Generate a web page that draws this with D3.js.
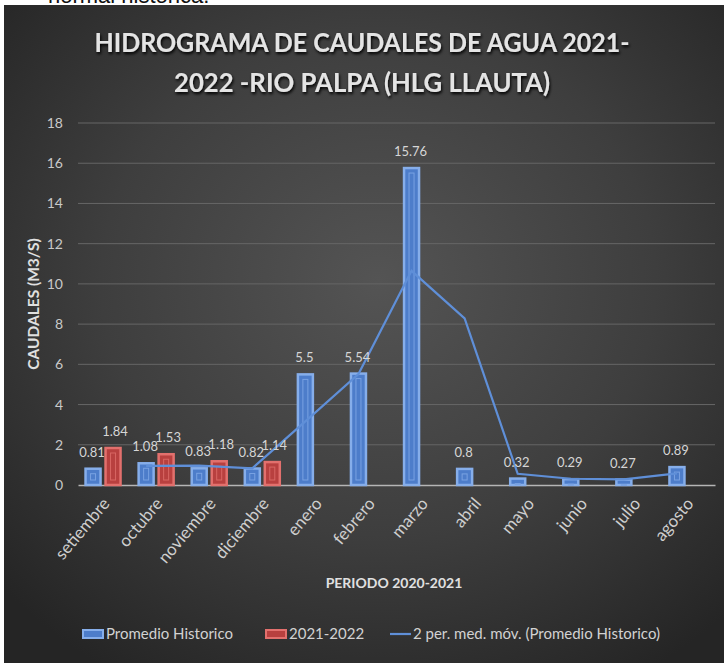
<!DOCTYPE html>
<html lang="es">
<head>
<meta charset="utf-8">
<title>Hidrograma de caudales</title>
<style>
  body { margin: 0; background: #ffffff; }
  svg text { font-family: Lato, "Liberation Sans", sans-serif; }
</style>
</head>
<body>
<div id="chart"></div>
<script src="https://d3js.org/d3.v7.min.js"></script>
<script>

// data
var meses = ["setiembre", "octubre", "noviembre", "diciembre", "enero", "febrero",
             "marzo", "abril", "mayo", "junio", "julio", "agosto"];
var promedioHistorico = [0.81, 1.08, 0.83, 0.82, 5.5, 5.54, 15.76, 0.8, 0.32, 0.29, 0.27, 0.89];
var anio2122 = [1.84, 1.53, 1.18, 1.14, null, null, null, null, null, null, null, null];
// 2 per. med. mov. (first month has no value)
var mediaMovil = [null, 0.95, 0.96, 0.83, 3.16, 5.52, 10.65, 8.28, 0.56, 0.31, 0.28, 0.58];
var yTicks = [0, 2, 4, 6, 8, 10, 12, 14, 16, 18];
var series = ["Promedio Historico", "2021-2022"];
var leyenda = ["Promedio Historico", "2021-2022", "2 per. med. móv. (Promedio Historico)"];
var titulo = ["HIDROGRAMA DE CAUDALES DE AGUA 2021-", "2022 -RIO PALPA (HLG LLAUTA)"];

var W = 724, H = 663;
var margin = {top: 123, right: 9, bottom: 178, left: 78},
    width = W - margin.left - margin.right,
    height = H - margin.top - margin.bottom;

var svg = d3.select("#chart").append("svg")
    .attr("width", W)
    .attr("height", H);

var defs = svg.append("defs");
var grad = defs.append("radialGradient")
    .attr("id", "bg")
    .attr("cx", "52%").attr("cy", "42%").attr("r", "70%");
grad.append("stop").attr("offset", "0%").attr("stop-color", "#545454");
grad.append("stop").attr("offset", "55%").attr("stop-color", "#3e3e3e");
grad.append("stop").attr("offset", "100%").attr("stop-color", "#252525");

var glow = defs.append("filter").attr("id", "glow")
    .attr("x", "-5%").attr("y", "-20%").attr("width", "110%").attr("height", "140%");
glow.append("feGaussianBlur").attr("in", "SourceAlpha").attr("stdDeviation", 1.6).attr("result", "b");
glow.append("feOffset").attr("in", "b").attr("dx", 1).attr("dy", 1.5).attr("result", "o");
var fm = glow.append("feMerge");
fm.append("feMergeNode").attr("in", "o");
fm.append("feMergeNode").attr("in", "SourceGraphic");

// cut text from the document above the chart
svg.append("text")
    .attr("x", 48).attr("y", 3)
    .style("font-family", "'Liberation Sans', sans-serif")
    .style("font-size", "22px")
    .style("fill", "#111")
    .text("normal histórica.");

// chart panel
svg.append("rect")
    .attr("x", 4).attr("y", 5)
    .attr("width", W - 4).attr("height", H - 5)
    .attr("fill", "url(#bg)");

// title
var titleLen = [535, 376];
var title = svg.append("g").attr("filter", "url(#glow)");
title.selectAll("text")
    .data(titulo)
    .enter().append("text")
    .attr("x", 362)
    .attr("y", function(d, i) { return 52 + i * 40; })
    .attr("text-anchor", "middle")
    .attr("textLength", function(d, i) { return titleLen[i]; })
    .attr("lengthAdjust", "spacingAndGlyphs")
    .style("font-size", "27px")
    .style("font-weight", "bold")
    .style("fill", "#e4e4e4")
    .text(function(d) { return d; });

var g = svg.append("g")
    .attr("transform", "translate(" + margin.left + "," + margin.top + ")");

var x = d3.scaleBand()
    .domain(meses)
    .range([0, width]);

var x1 = d3.scaleBand()
    .domain(series)
    .range([-19, 16])
    .paddingInner(0.25);

var y = d3.scaleLinear()
    .domain([0, 18])
    .range([height, 0]);

// gridlines
g.append("g")
    .selectAll("line")
    .data(yTicks.slice(1))
    .enter().append("line")
    .attr("x1", 0).attr("x2", width)
    .attr("y1", function(d) { return y(d); })
    .attr("y2", function(d) { return y(d); })
    .attr("stroke", "#666")
    .attr("stroke-width", 1);

// y axis labels
var yAxis = g.append("g")
    .call(d3.axisLeft(y).tickValues(yTicks).tickSize(0).tickPadding(15));
yAxis.select(".domain").remove();
yAxis.selectAll("text")
    .style("font-size", "14px")
    .style("fill", "#c9c9c9");

// x axis
var xAxis = g.append("g")
    .attr("transform", "translate(0," + height + ")")
    .call(d3.axisBottom(x).tickSize(0).tickPadding(0));
xAxis.select(".domain")
    .attr("stroke", "#b5b5b5")
    .attr("stroke-width", 1.5);
xAxis.selectAll("text")
    .attr("text-anchor", "end")
    .attr("dy", 0)
    .attr("transform", "translate(6,19) rotate(-50)")
    .style("font-size", "17px")
    .style("fill", "#cfcfcf");

// bars
var colors = {
    "Promedio Historico": {fill: "#4d7dca", stroke: "#86aeea", inner: "#79a2e2"},
    "2021-2022": {fill: "#b8403f", stroke: "#e2706d", inner: "#d86663"}
};

function drawBars(values, name) {
    var c = colors[name];
    var data = meses.map(function(m, i) { return {mes: m, v: values[i]}; })
        .filter(function(d) { return d.v != null; });
    var bars = g.append("g").selectAll("g")
        .data(data)
        .enter().append("g");
    bars.append("rect")
        .attr("x", function(d) { return x(d.mes) + x.bandwidth() / 2 + x1(name); })
        .attr("y", function(d) { return y(d.v); })
        .attr("width", x1.bandwidth())
        .attr("height", function(d) { return height - y(d.v); })
        .attr("fill", c.fill)
        .attr("stroke", c.stroke)
        .attr("stroke-width", 2.5);
    bars.append("rect")
        .attr("x", function(d) { return x(d.mes) + x.bandwidth() / 2 + x1(name) + 5; })
        .attr("y", function(d) { return y(d.v) + 5; })
        .attr("width", x1.bandwidth() - 10)
        .attr("height", function(d) { return Math.max(1, height - y(d.v) - 10); })
        .attr("fill", "none")
        .attr("stroke", c.inner)
        .attr("stroke-width", 1);
    return data;
}
var dataH = drawBars(promedioHistorico, "Promedio Historico");
var dataA = drawBars(anio2122, "2021-2022");

// moving average line (drawn on the historic bars)
var mm = meses.map(function(m, i) { return {mes: m, v: mediaMovil[i]}; })
    .filter(function(d) { return d.v != null; });
g.append("path")
    .datum(mm)
    .attr("d", d3.line()
        .x(function(d) { return x(d.mes) + x.bandwidth() / 2 + x1("Promedio Historico") + x1.bandwidth() / 2; })
        .y(function(d) { return y(d.v); }))
    .attr("fill", "none")
    .attr("stroke", "#5f8fd8")
    .attr("stroke-width", 2.2);

// data labels
function labels(data, name, dx) {
    g.append("g").selectAll("text")
        .data(data)
        .enter().append("text")
        .attr("x", function(d) { return x(d.mes) + x.bandwidth() / 2 + x1(name) + x1.bandwidth() / 2 + dx; })
        .attr("y", function(d) { return y(d.v) - 12; })
        .attr("text-anchor", "middle")
        .style("font-size", "13px")
        .style("fill", "#d6d6d6")
        .text(function(d) { return d.v; });
}
labels(dataH, "Promedio Historico", -1);
labels(dataA, "2021-2022", 2);

// axis titles
svg.append("text")
    .attr("transform", "translate(39," + (margin.top + height / 2) + ") rotate(-90)")
    .attr("text-anchor", "middle")
    .style("font-size", "15.5px")
    .style("font-weight", "bold")
    .style("fill", "#e0e0e0")
    .text("CAUDALES (M3/S)");

svg.append("text")
    .attr("x", 394).attr("y", 588)
    .attr("text-anchor", "middle")
    .style("font-size", "14px")
    .style("font-weight", "bold")
    .style("fill", "#e0e0e0")
    .text("PERIODO 2020-2021");

// legend
var legX = [83, 266, 390];
var leg = svg.append("g").selectAll("g")
    .data(leyenda)
    .enter().append("g")
    .attr("transform", function(d, i) { return "translate(" + legX[i] + ",634)"; });
leg.filter(function(d, i) { return i < 2; })
    .append("rect")
    .attr("x", 0).attr("y", -4)
    .attr("width", 20).attr("height", 8)
    .attr("fill", function(d, i) { return colors[series[i]].fill; })
    .attr("stroke", function(d, i) { return colors[series[i]].stroke; })
    .attr("stroke-width", 2);
leg.filter(function(d, i) { return i == 2; })
    .append("line")
    .attr("x1", 0).attr("x2", 21)
    .attr("stroke", "#5f8fd8")
    .attr("stroke-width", 2.2);
leg.append("text")
    .attr("x", 23).attr("y", 5)
    .style("font-size", "15px")
    .style("fill", "#d2d2d2")
    .text(function(d) { return d; });

</script>
</body>
</html>
